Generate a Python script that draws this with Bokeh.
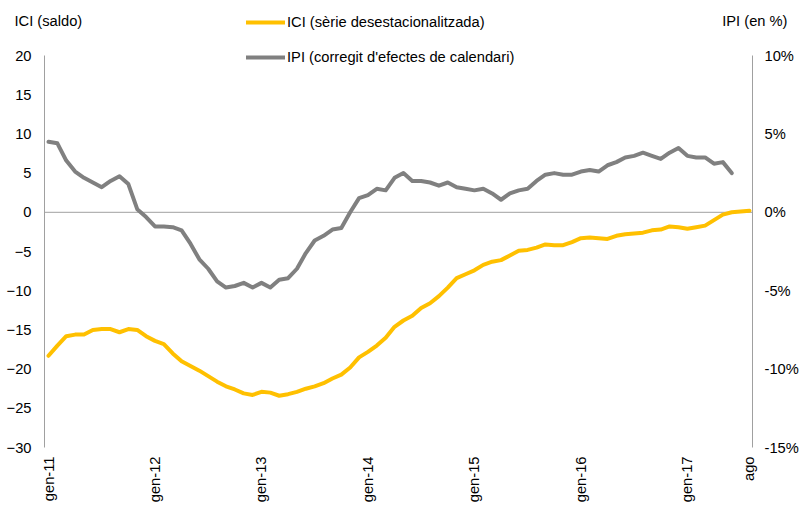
import math
from bokeh.plotting import figure
from bokeh.models import (Range1d, LinearAxis, FixedTicker, PrintfTickFormatter,
                          Label, Legend, LegendItem)
from bokeh.embed import file_html
from bokeh.resources import INLINE

# ---- data (monthly, gen-11 .. ago-17) ----
tick_positions = [0, 12, 24, 36, 48, 60, 72, 79]
tick_labels = ["gen-11", "gen-12", "gen-13", "gen-14", "gen-15", "gen-16", "gen-17", "ago"]

ici = [-18.3, -17.0, -15.8, -15.6, -15.6, -15.0, -14.9, -14.9, -15.3, -14.9,
       -15.0, -15.8, -16.4, -16.8, -18.0, -19.0, -19.6, -20.2, -20.9, -21.6,
       -22.2, -22.6, -23.1, -23.3, -22.9, -23.0, -23.4, -23.2, -22.9, -22.5,
       -22.2, -21.8, -21.2, -20.7, -19.8, -18.5, -17.8, -17.0, -16.0, -14.6,
       -13.8, -13.2, -12.2, -11.6, -10.7, -9.6, -8.4, -7.9, -7.4, -6.7,
       -6.3, -6.1, -5.5, -4.9, -4.8, -4.5, -4.1, -4.2, -4.2, -3.8,
       -3.3, -3.2, -3.3, -3.4, -3.0, -2.8, -2.7, -2.6, -2.3, -2.2,
       -1.8, -1.9, -2.1, -1.9, -1.7, -1.0, -0.3, 0.0, 0.1, 0.2]

ipi = [4.5, 4.4, 3.3, 2.6, 2.2, 1.9, 1.6, 2.0, 2.3, 1.8,
       0.2, -0.3, -0.9, -0.9, -0.95, -1.15, -2.0, -3.0, -3.6, -4.4,
       -4.8, -4.7, -4.5, -4.8, -4.5, -4.8, -4.3, -4.2, -3.6, -2.6,
       -1.8, -1.5, -1.1, -1.0, 0.0, 0.9, 1.1, 1.5, 1.4, 2.2,
       2.5, 2.0, 2.0, 1.9, 1.7, 1.9, 1.6, 1.5, 1.4, 1.5,
       1.2, 0.8, 1.2, 1.4, 1.5, 2.0, 2.4, 2.5, 2.4, 2.4,
       2.6, 2.7, 2.6, 3.0, 3.2, 3.5, 3.6, 3.8, 3.6, 3.4,
       3.8, 4.1, 3.6, 3.5, 3.5, 3.1, 3.2, 2.5]

ici_x = list(range(len(ici)))
ipi_x = list(range(len(ipi)))

left_ticks = [-30, -25, -20, -15, -10, -5, 0, 5, 10, 15, 20]
right_ticks = [-15, -10, -5, 0, 5, 10]
left_bounds = (-30, 20)
right_bounds = (-15, 10)

# ---- layout (pixels of the canvas) ----
W, H = 800, 504
X0_PX, KX = 48.0, 8.873        # pixel of month index 0, pixels per month
Y20_PX, KY = 55.0, 7.84        # pixel of value 20, pixels per unit (left scale)
AXL_PX, AXR_PX = 44.0, 752.0   # pixel positions of the two vertical axes

x_start = (0 - X0_PX) / KX
x_end = (W - X0_PX) / KX
y_end = 20 + Y20_PX / KY
y_start = 20 - (H - Y20_PX) / KY
x_left_axis = (AXL_PX - X0_PX) / KX
x_right_axis = (AXR_PX - X0_PX) / KX

FONT = "Liberation Sans"
FS = "14.7px"
TXT = "#000000"
AXC = "#a0a0a0"

p = figure(width=W, height=H, output_backend="svg", toolbar_location=None,
           x_range=Range1d(x_start, x_end), y_range=Range1d(y_start, y_end),
           x_axis_location=None, y_axis_location=None, min_border=0)
p.outline_line_color = None
p.grid.visible = False
p.background_fill_color = "white"
p.extra_y_ranges = {"ipi": Range1d(y_start / 2, y_end / 2)}


def style(ax, standoff):
    ax.major_tick_line_color = None
    ax.minor_tick_line_color = None
    ax.major_tick_out = 0
    ax.major_tick_in = 0
    ax.major_label_standoff = standoff
    ax.major_label_text_font = FONT
    ax.major_label_text_font_size = FS
    ax.major_label_text_color = TXT


la = LinearAxis(ticker=FixedTicker(ticks=left_ticks), fixed_location=x_left_axis,
                bounds=left_bounds, axis_line_color=AXC)
style(la, 13)
p.add_layout(la, "left")

ra = LinearAxis(y_range_name="ipi", ticker=FixedTicker(ticks=right_ticks),
                formatter=PrintfTickFormatter(format="%d%%"),
                fixed_location=x_right_axis, bounds=right_bounds, axis_line_color=AXC)
style(ra, 12)
p.add_layout(ra, "right")

xa = LinearAxis(ticker=FixedTicker(ticks=tick_positions), fixed_location=left_bounds[0],
                axis_line_color=None)
xa.major_label_overrides = {t: l for t, l in zip(tick_positions, tick_labels)}
xa.major_label_orientation = math.pi / 2
style(xa, 9)
p.add_layout(xa, "below")

# zero line (category axis crossing at 0)
p.segment(x0=[x_left_axis], y0=[0], x1=[x_right_axis], y1=[0], line_color=AXC, line_width=1)

r_ipi = p.line(ipi_x, ipi, y_range_name="ipi", line_color="#808080", line_width=4,
               line_join="round", line_cap="round")
r_ici = p.line(ici_x, ici, line_color="#FFC000", line_width=4,
               line_join="round", line_cap="round")

legend = Legend(items=[LegendItem(label="ICI (sèrie desestacionalitzada)", renderers=[r_ici]),
                       LegendItem(label="IPI (corregit d'efectes de calendari)", renderers=[r_ipi])],
                location=(246, H - 67), orientation="vertical",
                glyph_width=39, glyph_height=20, label_height=20, spacing=15,
                label_standoff=2, padding=0, margin=0,
                border_line_alpha=0, background_fill_alpha=0,
                label_text_font=FONT, label_text_font_size=FS, label_text_color=TXT)
p.add_layout(legend)

p.add_layout(Label(x=14, y=H - 20, x_units="screen", y_units="screen", text="ICI (saldo)",
                   text_font=FONT, text_font_size=FS, text_color=TXT,
                   text_align="left", text_baseline="middle"))
p.add_layout(Label(x=787, y=H - 20, x_units="screen", y_units="screen", text="IPI (en %)",
                   text_font=FONT, text_font_size=FS, text_color=TXT,
                   text_align="right", text_baseline="middle"))

open("out.html", "w").write(file_html(p, INLINE))
